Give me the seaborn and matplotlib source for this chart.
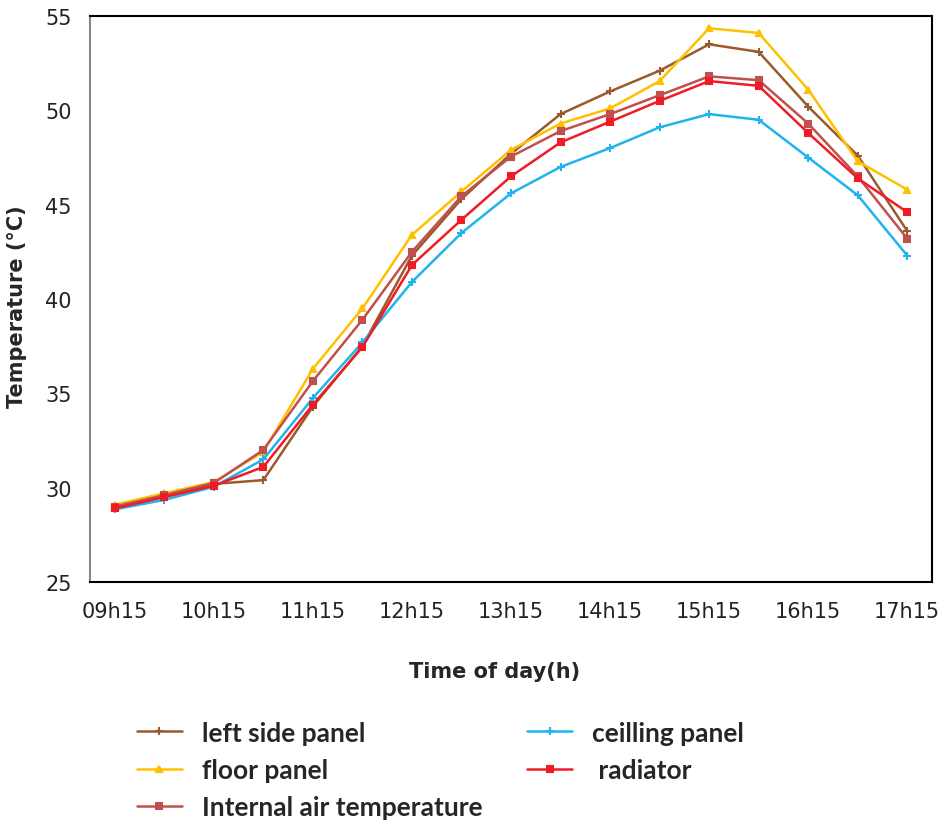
import numpy as np
import pandas as pd
import matplotlib
matplotlib.use('Agg')
import matplotlib.pyplot as plt
import seaborn as sns

# data, one point every 30 min from 09h15 to 17h15
times = ['09h15', '09h45', '10h15', '10h45', '11h15', '11h45', '12h15', '12h45',
         '13h15', '13h45', '14h15', '14h45', '15h15', '15h45', '16h15', '16h45', '17h15']
left_side = [29.0, 29.6, 30.2, 30.4, 34.3, 37.5, 42.3, 45.3, 47.7, 49.8, 51.0, 52.1,
             53.5, 53.1, 50.2, 47.6, 43.6]
ceiling = [28.85, 29.35, 30.05, 31.5, 34.75, 37.7, 40.9, 43.5, 45.6, 47.0, 48.0, 49.1,
           49.8, 49.5, 47.5, 45.5, 42.3]
floor = [29.1, 29.7, 30.3, 31.9, 36.3, 39.5, 43.4, 45.7, 47.9, 49.3, 50.1, 51.55,
         54.35, 54.1, 51.1, 47.3, 45.8]
radiator = [28.9, 29.5, 30.1, 31.1, 34.4, 37.45, 41.8, 44.2, 46.5, 48.3, 49.4, 50.5,
            51.55, 51.3, 48.8, 46.4, 44.6]
internal_air = [29.0, 29.6, 30.25, 32.0, 35.65, 38.9, 42.5, 45.45, 47.55, 48.9, 49.8, 50.8,
                51.8, 51.6, 49.3, 46.5, 43.2]

labels = ['left side panel', 'floor panel', 'Internal air temperature',
          'ceilling panel', ' radiator']
series = [left_side, floor, internal_air, ceiling, radiator]
colors = ['#9B5A2B', '#FFC000', '#C0504D', '#1FB4EE', '#EE1C25']
markers = ['+', '^', 's', '+', 's']
msizes = [6, 5, 5, 6, 5]

sns.set_style('white')
plt.rcParams['font.family'] = ['DejaVu Sans']

fig = plt.figure(figsize=(9.5, 8.28), dpi=100)
ax = fig.add_axes([90 / 950, 1 - 583 / 828, 842 / 950, 566 / 828])

x = np.arange(len(times))
for vals, lab, col, mk, ms in zip(series, labels, colors, markers, msizes):
    sns.lineplot(x=x, y=vals, ax=ax, color=col, marker=mk, markersize=ms,
                 markeredgecolor=col, markeredgewidth=1.5, linewidth=1.8, label=lab)

ax.set_xlim(-0.5, len(times) - 0.5)
ax.set_ylim(25, 55)
ax.set_yticks(np.arange(25, 56, 5))
ax.set_xticks(x[::2])
ax.set_xticklabels(times[::2])
ax.set_xticks(np.arange(-0.5, len(times), 1), minor=True)
ax.tick_params(axis='x', which='major', length=0, pad=14, labelsize=15, colors='#222222')
ax.tick_params(axis='x', which='minor', length=8, width=1.2, direction='out', color='black')
ax.tick_params(axis='y', length=7, width=1.2, direction='out', color='#888888',
               labelsize=15, labelcolor='#222222', pad=6)
for s in ['top', 'right', 'bottom']:
    ax.spines[s].set_color('black')
    ax.spines[s].set_linewidth(1.5)
ax.spines['left'].set_color('#888888')
ax.spines['left'].set_linewidth(1.5)

ax.set_xlabel('Time of day(h)', fontsize=15, fontweight='bold')
ax.set_ylabel('Temperature (°C)', fontsize=15, fontweight='bold')
ax.xaxis.set_label_coords(0.48, -0.14)
ax.yaxis.set_label_coords(-0.075, 0.488)

leg = ax.legend(loc='upper left', bbox_to_anchor=(47 / 842, -0.245), ncol=2, frameon=False,
                prop={'family': 'Lato', 'weight': 'bold', 'size': 19},
                borderpad=0, borderaxespad=0,
                handlelength=1.7, columnspacing=1.7, labelspacing=0.5, handletextpad=0.75)

fig.savefig('out.png', dpi=100)
